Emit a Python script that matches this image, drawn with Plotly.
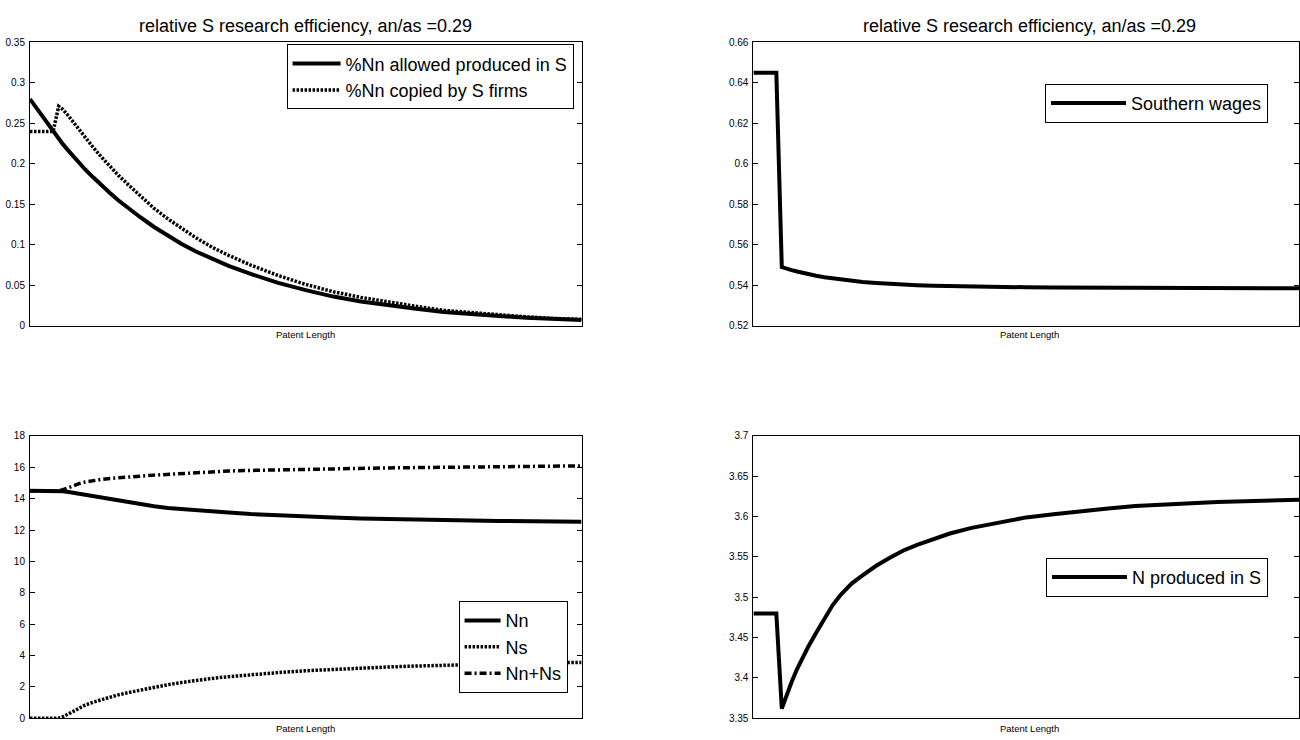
import plotly.graph_objects as go

# Patent length grid (arbitrary units, no tick labels shown)
patent_len = [0, 4.2, 5.2, 6, 7, 8, 9, 10, 11.5, 13, 14.5, 16, 18, 20, 22.5, 25, 27.5, 30,
              33, 36, 40, 45, 50, 55, 60, 65, 70, 75, 80, 85, 90, 95, 100]

# Top-left: shares of Northern goods
pct_allowed_S = [0.280, 0.240, 0.231, 0.224, 0.216, 0.208, 0.200, 0.193, 0.183, 0.173, 0.164,
                 0.155, 0.144, 0.134, 0.122, 0.111, 0.101, 0.092, 0.083, 0.074, 0.064, 0.053,
                 0.044, 0.036, 0.030, 0.025, 0.021, 0.017, 0.014, 0.012, 0.010, 0.008, 0.007]
pct_copied_S = [0.240, 0.240, 0.271, 0.267, 0.259, 0.250, 0.241, 0.232, 0.220, 0.208, 0.197,
                0.186, 0.173, 0.160, 0.145, 0.132, 0.120, 0.109, 0.097, 0.087, 0.075, 0.062,
                0.051, 0.042, 0.035, 0.029, 0.024, 0.019, 0.016, 0.013, 0.011, 0.009, 0.008]

# Top-right: Southern wages
south_wages = [0.645, 0.645, 0.549, 0.5482, 0.5475, 0.5468, 0.5461, 0.5455, 0.5447, 0.5440,
               0.5434, 0.5428, 0.5422, 0.5416, 0.5411, 0.5406, 0.5403, 0.5400, 0.5397, 0.5395,
               0.5393, 0.5391, 0.5390, 0.5389, 0.5388, 0.5387, 0.5387, 0.5386, 0.5386, 0.5386,
               0.5385, 0.5385, 0.5385]

# Bottom-left: numbers of products
Nn = [14.50, 14.50, 14.50, 14.47, 14.42, 14.36, 14.29, 14.22, 14.13, 14.03, 13.94, 13.85,
      13.74, 13.63, 13.52, 13.41, 13.33, 13.26, 13.18, 13.11, 13.02, 12.93, 12.86, 12.80,
      12.74, 12.69, 12.65, 12.62, 12.60, 12.58, 12.56, 12.54, 12.53]
Ns = [0.00, 0.00, 0.00, 0.10, 0.30, 0.50, 0.68, 0.84, 1.03, 1.20, 1.35, 1.49, 1.65, 1.80,
      1.98, 2.14, 2.28, 2.41, 2.54, 2.65, 2.78, 2.91, 3.03, 3.12, 3.20, 3.27, 3.33, 3.38,
      3.43, 3.47, 3.51, 3.54, 3.56]
Nn_plus_Ns = [14.50, 14.50, 14.50, 14.57, 14.72, 14.86, 14.97, 15.06, 15.16, 15.23, 15.29,
              15.34, 15.39, 15.43, 15.50, 15.55, 15.61, 15.67, 15.72, 15.76, 15.80, 15.84,
              15.89, 15.92, 15.94, 15.96, 15.98, 16.00, 16.03, 16.05, 16.07, 16.08, 16.09]

# Bottom-right: N produced in S
N_prod_S = [3.480, 3.480, 3.362, 3.378, 3.395, 3.411, 3.425, 3.438, 3.456, 3.474, 3.490,
            3.503, 3.517, 3.527, 3.539, 3.549, 3.558, 3.565, 3.572, 3.579, 3.586, 3.593,
            3.599, 3.603, 3.607, 3.610, 3.613, 3.615, 3.617, 3.618, 3.619, 3.620, 3.621]

title_text = "relative S research efficiency, an/as =0.29"
xlabel_text = "Patent Length"

W, H = 1300, 740
FONT = "Liberation Sans, Arial, sans-serif"

DOT = "2.5px,1.5px"
DASHDOT = "7px,3px,2px,3px"
LW = 4

fig = go.Figure()

fig.add_trace(go.Scatter(x=patent_len, y=pct_allowed_S, mode="lines", name="%Nn allowed produced in S",
                         line=dict(color="black", width=LW), xaxis="x", yaxis="y", legend="legend"))
fig.add_trace(go.Scatter(x=patent_len, y=pct_copied_S, mode="lines", name="%Nn copied by S firms",
                         line=dict(color="black", width=3.5, dash=DOT), xaxis="x", yaxis="y", legend="legend"))

fig.add_trace(go.Scatter(x=patent_len, y=south_wages, mode="lines", name="Southern wages",
                         line=dict(color="black", width=LW), xaxis="x2", yaxis="y2", legend="legend2"))

fig.add_trace(go.Scatter(x=patent_len, y=Nn, mode="lines", name="Nn",
                         line=dict(color="black", width=LW), xaxis="x3", yaxis="y3", legend="legend3"))
fig.add_trace(go.Scatter(x=patent_len, y=Ns, mode="lines", name="Ns",
                         line=dict(color="black", width=3.5, dash=DOT), xaxis="x3", yaxis="y3", legend="legend3"))
fig.add_trace(go.Scatter(x=patent_len, y=Nn_plus_Ns, mode="lines", name="Nn+Ns",
                         line=dict(color="black", width=3.5, dash=DASHDOT), xaxis="x3", yaxis="y3", legend="legend3"))

fig.add_trace(go.Scatter(x=patent_len, y=N_prod_S, mode="lines", name="N produced in S",
                         line=dict(color="black", width=LW), xaxis="x4", yaxis="y4", legend="legend4"))

left_dom = [30 / W, 582 / W]
right_dom = [754 / W, 1.0]
top_dom = [1 - 325 / H, 1 - 37 / H]
bot_dom = [1 - 724 / H, 1 - 437 / H]


def xax(dom, anchor):
    return dict(domain=dom, anchor=anchor, range=[0, 100], showticklabels=False, ticks="",
                showgrid=False, zeroline=False, showline=True, linecolor="black", linewidth=1,
                mirror=True)


def yax(dom, anchor, rng, dt):
    return dict(domain=dom, anchor=anchor, range=rng, dtick=dt, tick0=rng[0], ticks="inside",
                ticklen=5, tickcolor="black", tickwidth=1, showgrid=False, zeroline=False,
                showline=True, linecolor="black", linewidth=1, mirror="ticks",
                ticklabelstandoff=2,
                tickfont=dict(family=FONT, size=10, color="black"))


def legend_box(xr, yt, iw):
    return dict(x=xr / W, y=1 - yt / H, xanchor="right", yanchor="top", bgcolor="white",
                bordercolor="black", borderwidth=1, itemwidth=iw,
                font=dict(family=FONT, size=18, color="black"), tracegroupgap=0)


fig.update_layout(
    width=W, height=H, margin=dict(l=0, r=0, t=0, b=0),
    paper_bgcolor="white", plot_bgcolor="white",
    font=dict(family=FONT, color="black"),
    xaxis=xax(left_dom, "y"), yaxis=yax(top_dom, "x", [0, 0.35], 0.05),
    xaxis2=xax(right_dom, "y2"), yaxis2=yax(top_dom, "x2", [0.52, 0.66], 0.02),
    xaxis3=xax(left_dom, "y3"), yaxis3=yax(bot_dom, "x3", [0, 18], 2),
    xaxis4=xax(right_dom, "y4"), yaxis4=yax(bot_dom, "x4", [3.35, 3.7], 0.05),
    showlegend=True,
    legend=legend_box(574, 39, 48),
    legend2=legend_box(1269, 79, 75),
    legend3=legend_box(568, 605, 36),
    legend4=legend_box(1269, 561, 75),
)

annotations = []
for cx in [(30 + 582) / 2, (754 + 1306) / 2]:
    annotations.append(dict(text=title_text, x=cx / W, y=1 - 20 / H, xref="paper", yref="paper",
                            xanchor="center", yanchor="middle", showarrow=False,
                            font=dict(family=FONT, size=18, color="black")))
for cx in [(30 + 582) / 2, (754 + 1306) / 2]:
    for cy in [334, 734]:
        annotations.append(dict(text=xlabel_text, x=cx / W, y=1 - cy / H, xref="paper", yref="paper",
                                xanchor="center", yanchor="middle", showarrow=False,
                                font=dict(family=FONT, size=9.5, color="black")))
fig.update_layout(annotations=annotations)

fig.write_html("out.html")
